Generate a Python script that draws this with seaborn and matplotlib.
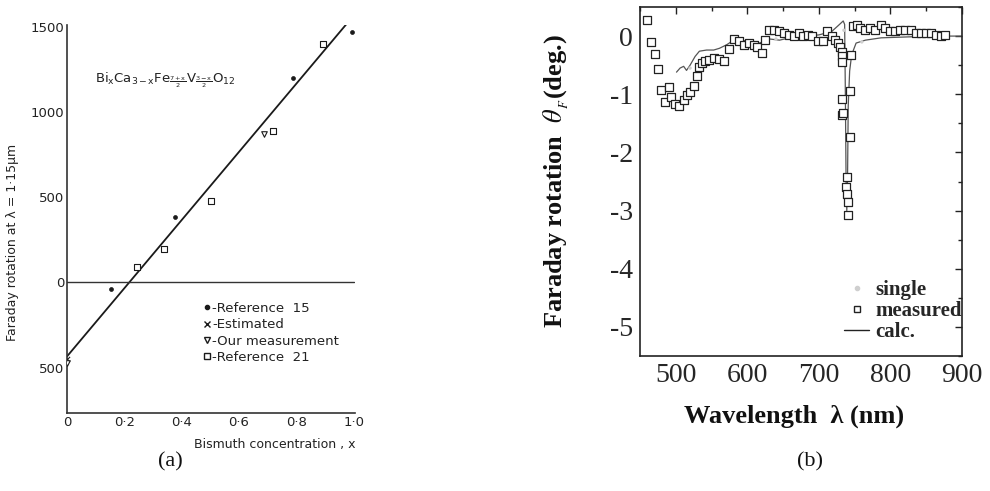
import numpy as np
import pandas as pd
import matplotlib
matplotlib.use("Agg")
import matplotlib.pyplot as plt
from matplotlib.lines import Line2D
from matplotlib.ticker import MultipleLocator
import seaborn as sns

# ---------------- Panel (a) data ----------------
a_ref15_x = [0.153, 0.376, 0.787, 0.993]
a_ref15_y = [-41, 381, 1201, 1470]
a_est_x = [0.0]
a_est_y = [-450]
a_our_x = [0.0, 0.686]
a_our_y = [-475, 873]
a_ref21_x = [0.244, 0.338, 0.502, 0.718, 0.892]
a_ref21_y = [88, 193, 480, 885, 1400]
a_fit_x = [0.0, 1.0]
a_fit_y = [-435, 1565]
a_xticks = [0, 0.2, 0.4, 0.6, 0.8, 1.0]
a_xticklabels = ["0", "0·2", "0·4", "0·6", "0·8", "1·0"]
a_yticks = [1500, 1000, 500, 0, -500]
a_yticklabels = ["1500", "1000", "500", "0", "500"]
a_legend_labels = ["-Reference  15", "-Estimated", "-Our measurement", "-Reference  21"]

# ---------------- Panel (b) data ----------------
meas_x = [460, 465, 471, 475, 480, 490, 485, 494, 499, 504, 511, 515, 520, 525, 530,
          533, 537, 541, 547, 554, 561, 567, 575, 582, 589, 595, 602, 609, 613, 620,
          624, 630, 637, 644, 651, 658, 665, 672, 678, 685, 690, 699, 706, 711, 718,
          723, 727, 730, 732, 732, 732, 732, 732, 734, 743, 743, 739, 738, 739, 740,
          740, 745, 748, 753, 758, 765, 772, 779, 787, 793, 800, 807, 814, 821, 829,
          836, 843, 850, 857, 864, 871, 876]
meas_y = [0.28, -0.10, -0.31, -0.57, -0.92, -0.87, -1.13, -1.04, -1.16, -1.20, -1.10,
          -1.02, -0.96, -0.86, -0.68, -0.53, -0.47, -0.43, -0.41, -0.38, -0.39, -0.43,
          -0.22, -0.05, -0.08, -0.15, -0.12, -0.15, -0.19, -0.29, -0.06, 0.11, 0.11,
          0.08, 0.05, 0.02, 0.00, 0.05, 0.00, 0.02, 0.00, -0.08, -0.08, 0.08, 0.00,
          -0.07, -0.12, -0.18, -0.27, -0.35, -0.44, -1.08, -1.36, -1.33, -0.95, -1.73,
          -2.43, -2.60, -2.72, -2.85, -3.07, -0.33, 0.17, 0.19, 0.14, 0.11, 0.14, 0.11,
          0.19, 0.14, 0.08, 0.08, 0.11, 0.11, 0.11, 0.05, 0.05, 0.05, 0.05, 0.02, 0.00,
          0.02]
calc_x = [501, 506, 511, 515, 520, 527, 533, 543, 553, 561, 571, 581, 590, 603, 617,
          631, 645, 659, 678, 700, 718, 727, 734, 736, 737, 738, 739, 740, 741, 743,
          745, 748, 752, 765, 787, 811, 857, 900]
calc_y = [-0.62, -0.55, -0.52, -0.59, -0.50, -0.35, -0.26, -0.24, -0.24, -0.21, -0.15,
          -0.07, -0.07, -0.09, -0.12, -0.05, -0.07, -0.03, 0.00, 0.02, 0.08, 0.18, 0.26,
          0.20, -1.00, -2.50, -3.00, -2.50, -1.20, -0.60, -0.40, -0.25, -0.12, -0.07,
          -0.03, -0.02, 0.00, 0.00]
single_x = [520, 600, 640, 690, 735, 760, 850]
single_y = [-0.55, -0.08, -0.05, 0.00, 0.10, -0.10, 0.03]
b_xticks = [500, 600, 700, 800, 900]
b_yticks = [0, -1, -2, -3, -4, -5]
b_yticklabels = ["0", "-1", "-2", "-3", "-4", "-5"]
b_legend_labels = ["single", "measured", "calc."]

sns.set_theme(style="white")
plt.rcParams["font.family"] = ["DejaVu Sans"]
plt.rcParams["axes.unicode_minus"] = False
plt.rcParams["mathtext.fontset"] = "stix"

fig = plt.figure(figsize=(9.9, 4.91), dpi=100)

# ================= Panel (a) =================
axa = fig.add_axes([67 / 990, 1 - 413 / 491, (355 - 67) / 990, (413 - 25) / 491])
ink = "#1a1a1a"
sns.lineplot(x=a_fit_x, y=a_fit_y, ax=axa, color=ink, linewidth=1.3)
axa.plot([0, 1.0], [0, 0], color="#333333", linewidth=1.0)
sns.scatterplot(x=a_ref15_x, y=a_ref15_y, ax=axa, marker="o", s=8, color=ink,
                edgecolor=ink, linewidth=0.5, zorder=5)
sns.scatterplot(x=a_est_x, y=a_est_y, ax=axa, marker="x", s=14, color=ink,
                linewidth=0.8, zorder=5)
sns.scatterplot(x=a_our_x, y=a_our_y, ax=axa, marker="v", s=16, facecolor="white",
                edgecolor=ink, linewidth=0.8, zorder=5)
sns.scatterplot(x=a_ref21_x, y=a_ref21_y, ax=axa, marker="s", s=16, facecolor="white",
                edgecolor=ink, linewidth=0.8, zorder=5)
axa.set_xlim(0, 1.005)
axa.set_ylim(-767, 1510)
axa.spines["top"].set_visible(False)
axa.spines["right"].set_visible(False)
for s in ["left", "bottom"]:
    axa.spines[s].set_color("#333333")
    axa.spines[s].set_linewidth(1.2)
axa.set_xticks(a_xticks)
axa.set_xticklabels(a_xticklabels)
axa.set_yticks(a_yticks)
axa.set_yticklabels(a_yticklabels)
axa.xaxis.set_minor_locator(MultipleLocator(0.1))
axa.tick_params(axis="both", which="both", direction="in", length=3, width=0.8,
                color="#333333", labelsize=9.5, labelcolor="#222222", pad=2)
axa.tick_params(axis="x", which="minor", length=2)
axa.set_xlabel("Bismuth concentration , x", fontsize=9, color="#222222", loc="right")
axa.xaxis.set_label_coords(1.0, -0.065)
axa.set_ylabel("Faraday rotation at λ = 1·15μm", fontsize=9, color="#222222")
axa.yaxis.set_label_coords(-0.165, 0.44)
fig.text(95 / 990, 1 - 80 / 491,
         r"$\mathregular{Bi_xCa_{3-x}Fe_{\frac{7+x}{2}}V_{\frac{3-x}{2}}O_{12}}$",
         fontsize=9.5, color="#222222", va="center", ha="left")
a_handles = [
    Line2D([], [], linestyle="none", marker="o", markersize=3, color=ink),
    Line2D([], [], linestyle="none", marker="x", markersize=4, color=ink),
    Line2D([], [], linestyle="none", marker="v", markersize=4, markerfacecolor="white",
           markeredgecolor=ink),
    Line2D([], [], linestyle="none", marker="s", markersize=4, markerfacecolor="white",
           markeredgecolor=ink),
]
fig.legend(a_handles, a_legend_labels, loc="upper left", bbox_to_anchor=(0.205, 0.385),
           frameon=False, fontsize=9.5, handlelength=0.6, handletextpad=0.1,
           labelspacing=0.25, borderaxespad=0, borderpad=0, labelcolor="#222222")

# ================= Panel (b) =================
serif = ["Liberation Serif", "DejaVu Serif"]
axb = fig.add_axes([640 / 990, 1 - 356 / 491, (962 - 640) / 990, (356 - 7) / 491])
sns.lineplot(x=calc_x, y=calc_y, ax=axb, color="#555555", linewidth=0.9, sort=False)
sns.scatterplot(x=single_x, y=single_y, ax=axb, marker="o", s=6, color="#cfcfcf",
                edgecolor="none", zorder=3)
sns.scatterplot(x=meas_x, y=meas_y, ax=axb, marker="s", s=26, facecolor="white",
                edgecolor="#222222", linewidth=0.9, zorder=4)
axb.set_xlim(450, 900)
axb.set_ylim(-5.5, 0.5)
for s in axb.spines.values():
    s.set_color("#222222")
    s.set_linewidth(1.2)
axb.set_xticks(b_xticks)
axb.set_yticks(b_yticks)
axb.set_yticklabels(b_yticklabels)
axb.xaxis.set_minor_locator(MultipleLocator(50))
axb.yaxis.set_minor_locator(MultipleLocator(0.5))
axb.tick_params(axis="both", which="both", direction="in", top=True, right=True,
                length=5, width=1.0, color="#222222", labelsize=20, pad=5)
axb.tick_params(axis="both", which="minor", length=3)
for lab in axb.get_xticklabels() + axb.get_yticklabels():
    lab.set_family(serif)
axb.set_xlabel("Wavelength  λ (nm)", fontsize=19, fontweight="bold", family=serif,
               color="#111111")
axb.xaxis.set_label_coords(0.48, -0.14)
axb.set_ylabel(r"Faraday rotation  $\theta$$_{_F}$(deg.)", fontsize=19,
               fontweight="bold", family=serif, color="#111111")
axb.yaxis.set_label_coords(-0.215, 0.5)
b_handles = [
    Line2D([], [], linestyle="none", marker="o", markersize=3, color="#cfcfcf"),
    Line2D([], [], linestyle="none", marker="s", markersize=5, markerfacecolor="white",
           markeredgecolor="#222222"),
    Line2D([], [], color="#222222", linewidth=1.0),
]
axb.legend(b_handles, b_legend_labels, loc="lower right", bbox_to_anchor=(1.0, 0.04),
           frameon=False, prop={"family": serif, "weight": "bold", "size": 15},
           handlelength=1.2, handletextpad=0.3, labelspacing=0.05, borderpad=0,
           borderaxespad=0)

fig.text(170 / 990, 1 - 462 / 491, "(a)", family=serif, fontsize=16, ha="center",
         va="center", color="#111111")
fig.text(810 / 990, 1 - 462 / 491, "(b)", family=serif, fontsize=16, ha="center",
         va="center", color="#111111")

fig.savefig("out.png", dpi=100, facecolor="white")
